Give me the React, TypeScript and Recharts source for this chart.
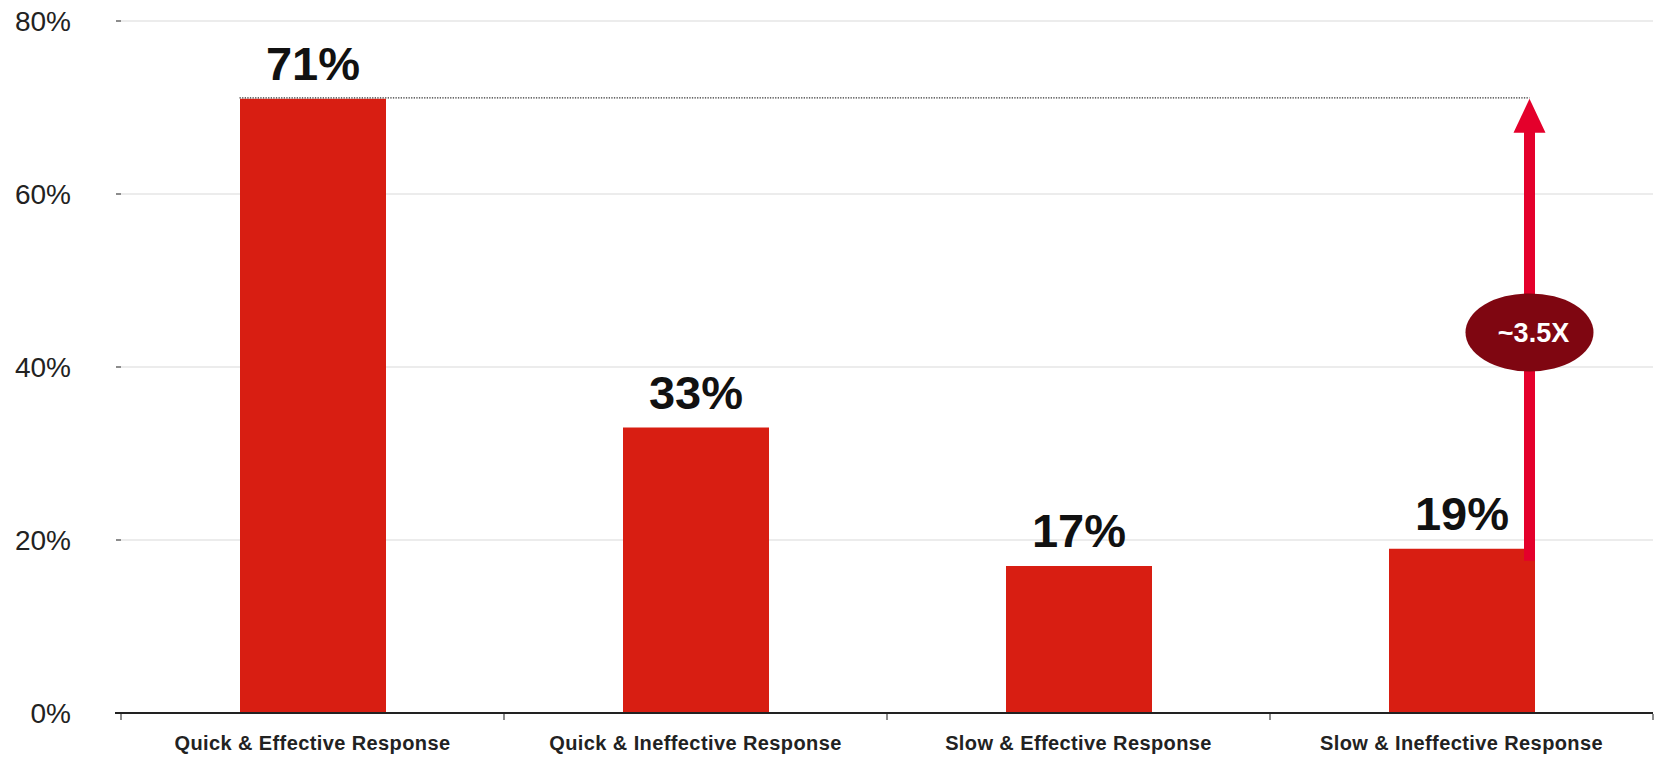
import React from 'react';
import { BarChart, Bar, XAxis, YAxis, CartesianGrid, LabelList, ReferenceLine } from 'recharts';

const categories = [
  'Quick & Effective Response',
  'Quick & Ineffective Response',
  'Slow & Effective Response',
  'Slow & Ineffective Response',
];
const values = [71, 33, 17, 19];
const yTicks = [0, 20, 40, 60, 80];
const annotationText = '~3.5X';
const annotationFrom = 19;
const annotationTo = 71;
const annotationLabelAt = 44;

const data = categories.map((name, i) => ({ name, value: values[i] }));

const W = 1655;
const H = 758;
const MARGIN = { top: 21, right: 2, bottom: 0, left: 0 };
const Y_AXIS_W = 121;
const X_AXIS_H = 45;
const BAR_SIZE = 146;
const PLOT_W = W - MARGIN.left - MARGIN.right - Y_AXIS_W;
const BAND = PLOT_W / categories.length;
const AXIS_Y = H - MARGIN.bottom - X_AXIS_H;
const ARROW_INSET = 5;
const FONT = '"Liberation Sans", Arial, Helvetica, sans-serif';
const BAR_COLOR = '#d81e12';
const ARROW_COLOR = '#e4002b';
const BADGE_COLOR = '#7f0611';

const XTick = (props: any) => {
  const { x, payload, index } = props;
  const tickLine = (tx: number) => (
    <line x1={tx} x2={tx} y1={AXIS_Y + 1} y2={AXIS_Y + 7} stroke="#666" strokeWidth={1.5} />
  );
  return (
    <g>
      {index === 0 && <line x1={x - BAND / 2 - 6} x2={x - BAND / 2} y1={AXIS_Y} y2={AXIS_Y} stroke="#222" strokeWidth={2} />}
      {tickLine(x - BAND / 2)}
      {index === categories.length - 1 && tickLine(x + BAND / 2)}
      <text
        x={x}
        y={AXIS_Y + 37}
        textAnchor="middle"
        fontFamily={FONT}
        fontWeight="bold"
        fontSize={20}
        letterSpacing={0.4}
        fill="#222"
      >
        {payload.value}
      </text>
    </g>
  );
};

const DottedShape = (p: any) => {
  const left = Math.min(p.x1, p.x2) - BAR_SIZE / 2;
  const right = Math.max(p.x1, p.x2) + BAR_SIZE / 2 - ARROW_INSET;
  return (
    <line x1={left} x2={right} y1={p.y1 - 1} y2={p.y2 - 1} stroke="#333" strokeWidth={1.3} strokeDasharray="1.3 1.3" />
  );
};

const ArrowShape = (p: any) => {
  const x = p.x1 + BAR_SIZE / 2 - ARROW_INSET;
  const top = Math.min(p.y1, p.y2);
  const base = Math.max(p.y1, p.y2);
  const bottom = base + 12;
  const headH = 34;
  const headW = 32;
  const labelY = base + ((top - base) * (annotationLabelAt - annotationFrom)) / (annotationTo - annotationFrom);
  return (
    <g>
      <line x1={x} x2={x} y1={bottom} y2={top + headH - 2} stroke={ARROW_COLOR} strokeWidth={11} />
      <polygon points={`${x},${top} ${x - headW / 2},${top + headH} ${x + headW / 2},${top + headH}`} fill={ARROW_COLOR} />
      <ellipse cx={x} cy={labelY} rx={64} ry={39} fill={BADGE_COLOR} />
      <text
        x={x + 4}
        y={labelY}
        dy="0.36em"
        textAnchor="middle"
        fontFamily={FONT}
        fontWeight="bold"
        fontSize={27}
        fill="#fff"
      >
        {annotationText}
      </text>
    </g>
  );
};

export default function App() {
  return (
    <div style={{ position: 'absolute', left: 0, top: 0, width: W, height: H, background: '#fff' }}>
      <BarChart width={W} height={H} data={data} margin={MARGIN} barCategoryGap={0}>
        <CartesianGrid vertical={false} stroke="#ececec" strokeWidth={2} />
        <YAxis
          domain={[0, 80]}
          ticks={yTicks}
          width={Y_AXIS_W}
          axisLine={false}
          tickLine={{ stroke: '#666', strokeWidth: 1.5 }}
          tickSize={5}
          tickMargin={45}
          tickFormatter={(v: number) => `${v}%`}
          tick={{ fontSize: 28, fill: '#222', fontFamily: FONT }}
          interval={0}
        />
        <XAxis
          dataKey="name"
          height={X_AXIS_H}
          axisLine={{ stroke: '#222', strokeWidth: 2 }}
          tickLine={false}
          tick={<XTick />}
          interval={0}
        />
        <Bar dataKey="value" fill={BAR_COLOR} barSize={BAR_SIZE} isAnimationActive={false}>
          <LabelList
            dataKey="value"
            position="top"
            offset={19}
            formatter={(v: any) => `${v}%`}
            style={{ fontSize: 47, fontWeight: 'bold', fill: '#111', fontFamily: FONT }}
          />
        </Bar>
        <ReferenceLine
          segment={[
            { x: categories[0], y: annotationTo },
            { x: categories[categories.length - 1], y: annotationTo },
          ]}
          shape={<DottedShape />}
        />
        <ReferenceLine
          segment={[
            { x: categories[categories.length - 1], y: annotationFrom },
            { x: categories[categories.length - 1], y: annotationTo },
          ]}
          shape={<ArrowShape />}
        />
      </BarChart>
    </div>
  );
}
